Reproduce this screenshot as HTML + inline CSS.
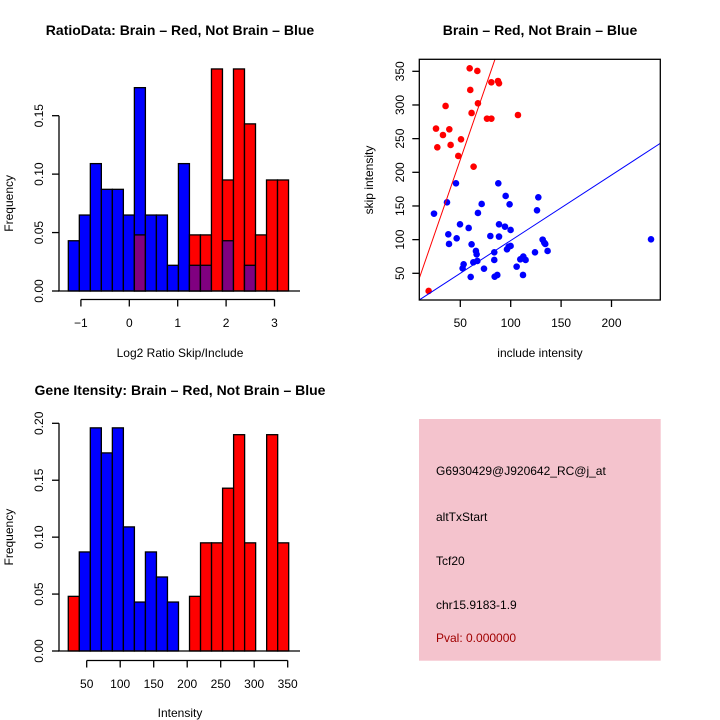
<!DOCTYPE html>
<html><head><meta charset="utf-8"><style>
html,body{margin:0;padding:0;background:#fff;}
svg{display:block;font-family:"Liberation Sans",sans-serif;}
</style></head><body>
<svg id="chart" width="720" height="720" viewBox="0 0 720 720" xmlns="http://www.w3.org/2000/svg">
<rect x="0" y="0" width="720" height="720" fill="#fff"/>
<g id="p1"></g>
<g id="p2"></g>
<g id="p3"></g>
<g id="p4">
<rect x="419" y="419" width="241.7" height="241.7" fill="#f4c3cd"/>
<text x="436" y="475" font-size="12" fill="#000">G6930429@J920642_RC@j_at</text>
<text x="436" y="521" font-size="12" fill="#000">altTxStart</text>
<text x="436" y="565" font-size="12" fill="#000">Tcf20</text>
<text x="436" y="609" font-size="12" fill="#000">chr15.9183-1.9</text>
<text x="436" y="642" font-size="12" fill="#a00000">Pval: 0.000000</text>
</g>
</svg>
<script>
// Panel 1 data: log2 ratio histogram
const ratioBinStart = -1.26;
const ratioBinWidth = 0.2275;
const ratioBlue = [0.043,0.065,0.109,0.087,0.087,0.065,0.174,0.065,0.065,0.022,0.109,0.022,0.022,0,0.043,0,0.022,0,0,0];
const ratioRed  = [0,0,0,0,0,0,0.048,0,0,0,0,0.048,0.048,0.19,0.095,0.19,0.143,0.048,0.095,0.095];
const ratioXTicks = [-1,0,1,2,3];
const ratioYTicks = [0,0.05,0.10,0.15];
const ratioYLabels = ["0.00","0.05","0.10","0.15"];

// Panel 2 data: scatter
const redInclude = [18.6,25.9,27.2,32.8,35.4,39.1,40.4,48.0,50.7,59.3,59.9,61.2,63.2,66.9,67.5,76.5,80.8,80.8,87.4,88.4,107.2];
const redSkip    = [23.8,264.9,237.1,255.4,298.5,263.9,240.6,224.3,249.0,354.5,322.3,288.1,208.4,350.5,302.5,279.7,333.7,279.7,335.6,332.2,285.1];
const blueInclude = [23.9,36.8,38.1,38.8,45.7,46.4,49.7,52.3,53.3,58.3,60.3,61.2,62.9,65.5,66.2,66.9,67.5,71.2,73.5,79.8,83.7,83.7,84.1,86.7,87.7,88.4,88.4,95.0,94.3,96.3,98.0,98.9,99.9,99.9,105.9,109.5,112.2,112.5,114.8,124.1,126.1,127.4,131.7,133.3,134.3,136.6,239.2];
const blueSkip    = [138.6,155.4,107.9,93.6,183.7,102.0,122.8,57.4,63.4,117.3,44.6,93.1,66.3,83.2,78.2,68.3,139.6,153.0,56.9,105.4,81.2,69.8,45.0,47.5,183.7,122.8,104.5,164.9,119.3,85.6,89.6,152.5,114.4,90.6,59.9,70.8,47.5,74.8,69.8,81.2,143.6,162.9,100.0,95.5,93.6,83.2,100.5];
const fitSlopes = [4.33, 0.973];
const fitIntercepts = [2.3, 1.35];
const scatterXTicks = [50,100,150,200];
const scatterYTicks = [50,100,150,200,250,300,350];

// Panel 3 data: intensity histogram
const intBinStart = 22.5;
const intBinWidth = 16.45;
const intBlue = [0,0.087,0.196,0.174,0.196,0.109,0.043,0.087,0.065,0.043,0,0,0,0,0,0,0,0,0,0];
const intRed  = [0.048,0,0,0,0,0,0,0,0,0,0,0.048,0.095,0.095,0.143,0.19,0.095,0,0.19,0.095];
const intXTicks = [50,100,150,200,250,300,350];
const intYTicks = [0,0.05,0.10,0.15,0.20];
const intYLabels = ["0.00","0.05","0.10","0.15","0.20"];

const NS="http://www.w3.org/2000/svg";
function mk(parent,tag,attrs,text){
  const e=document.createElementNS(NS,tag);
  for(const k in attrs) e.setAttribute(k,attrs[k]);
  if(text!==undefined) e.textContent=text;
  parent.appendChild(e);
  return e;
}

function histPanel(g, cfg){
  const {binStart,binWidth,blue,red,xs,ys,xTicks,yTicks,yLabels,title,titleY,xTitle,xTitleY,axisY,labelY,baseEnd}=cfg;
  const bottom = ys(0);
  let t=mk(g,'text',{x:180,y:titleY,'font-size':14,'font-weight':'bold','text-anchor':'middle'},title);
  
  
  for(let i=0;i<blue.length;i++){
    const x0=xs(binStart+i*binWidth), x1=xs(binStart+(i+1)*binWidth);
    const b=blue[i], r=red[i];
    const hi=Math.max(b,r), lo=Math.min(b,r);
    if(hi>0){
      const rc=mk(g,'rect',{x:x0,y:ys(hi),width:x1-x0,height:bottom-ys(hi),fill:(b>=r?'#0000ff':'#ff0000'),stroke:'#000','stroke-width':1.3});
      
      
    }
    if(lo>0){
      const pc=mk(g,'rect',{x:x0,y:ys(lo),width:x1-x0,height:bottom-ys(lo),fill:'#800080',stroke:'#000','stroke-width':1.3});
      
      
    }
  }
  let bl=mk(g,'line',{x1:58,y1:bottom,x2:baseEnd,y2:bottom,stroke:'#000','stroke-width':1.3});
  
  
  // x axis
  const xa=mk(g,'g',{});
  
  
  mk(xa,'line',{x1:xs(xTicks[0]),y1:axisY,x2:xs(xTicks[xTicks.length-1]),y2:axisY,stroke:'#000','stroke-width':1.3});
  xTicks.forEach(v=>{
    mk(xa,'line',{x1:xs(v),y1:axisY,x2:xs(v),y2:axisY+7,stroke:'#000','stroke-width':1.3});
    const tl=mk(xa,'text',{x:xs(v),y:labelY,'font-size':12,'text-anchor':'middle'},String(v).replace('-','\u2212'));
    
    
  });
  let xt=mk(g,'text',{x:180,y:xTitleY,'font-size':12,'text-anchor':'middle'},xTitle);
  
  
  // y axis
  const ya=mk(g,'g',{});
  
  
  mk(ya,'line',{x1:59,y1:ys(yTicks[0]),x2:59,y2:ys(yTicks[yTicks.length-1]),stroke:'#000','stroke-width':1.3});
  yTicks.forEach((v,i)=>{
    mk(ya,'line',{x1:52,y1:ys(v),x2:59,y2:ys(v),stroke:'#000','stroke-width':1.3});
    const tl=mk(ya,'text',{x:43,y:ys(v),'font-size':12,'text-anchor':'middle',transform:`rotate(-90 43 ${ys(v)})`},yLabels[i]);
    
    
  });
  const yc=(ys(yTicks[0])+ys(yTicks[yTicks.length-1]))/2;
  let yt=mk(g,'text',{x:13,y:yc,'font-size':12,'text-anchor':'middle',transform:`rotate(-90 13 ${yc})`},'Frequency');
  
  
}

// Panel 1
histPanel(document.getElementById('p1'),{
  binStart:ratioBinStart,binWidth:ratioBinWidth,blue:ratioBlue,red:ratioRed,
  xs:v=>129.3+v*48.4, ys:v=>291-v*1168.7,
  xTicks:ratioXTicks,yTicks:ratioYTicks,yLabels:ratioYLabels,
  title:'RatioData: Brain \u2013 Red, Not Brain \u2013 Blue',titleY:35,
  xTitle:'Log2 Ratio Skip/Include',xTitleY:357,axisY:299.5,labelY:327,baseEnd:300
});

// Panel 3
histPanel(document.getElementById('p3'),{
  binStart:intBinStart,binWidth:intBinWidth,blue:intBlue,red:intRed,
  xs:v=>86.7+(v-50)*0.67, ys:v=>651-v*1138.5,
  xTicks:intXTicks,yTicks:intYTicks,yLabels:intYLabels,
  title:'Gene Itensity: Brain \u2013 Red, Not Brain \u2013 Blue',titleY:395,
  xTitle:'Intensity',xTitleY:717,axisY:660.5,labelY:688,baseEnd:300
});

// Panel 2 scatter
(function(){
  const g=document.getElementById('p2');
  const L=419.3,R=660.3,T=59.3,B=300;
  const xs=v=>460.3+(v-50)*1.008;
  const ys=v=>273.3-(v-50)*0.6733;
  let t=mk(g,'text',{x:540,y:35,'font-size':14,'font-weight':'bold','text-anchor':'middle'},'Brain \u2013 Red, Not Brain \u2013 Blue');
  
  
  const defs=mk(g,'defs',{});
  const cp=mk(defs,'clipPath',{id:'clip2'});
  mk(cp,'rect',{x:L,y:T,width:R-L,height:B-T});
  const pts=mk(g,'g',{});
  
  
  redInclude.forEach((v,i)=>{
    const c=mk(pts,'circle',{cx:xs(v),cy:ys(redSkip[i]),r:3.3,fill:'#ff0000'});
    
    
  });
  blueInclude.forEach((v,i)=>{
    const c=mk(pts,'circle',{cx:xs(v),cy:ys(blueSkip[i]),r:3.3,fill:'#0000ff'});
    
    
  });
  const lineCols=['#ff0000','#0000ff'];
  const lineNames=['fit-line-brain','fit-line-not-brain'];
  fitSlopes.forEach((s,i)=>{
    const xa=0, xb=300;
    const ln=mk(g,'line',{x1:xs(xa),y1:ys(fitIntercepts[i]+s*xa),x2:xs(xb),y2:ys(fitIntercepts[i]+s*xb),stroke:lineCols[i],'stroke-width':1,'clip-path':'url(#clip2)'});
    
    
  });
  let box=mk(g,'rect',{x:L,y:T,width:R-L,height:B-T,fill:'none',stroke:'#000','stroke-width':1.3});
  
  
  const xa=mk(g,'g',{});
  
  
  scatterXTicks.forEach(v=>{
    mk(xa,'line',{x1:xs(v),y1:B,x2:xs(v),y2:B+7,stroke:'#000','stroke-width':1.3});
    const tl=mk(xa,'text',{x:xs(v),y:327,'font-size':12,'text-anchor':'middle'},String(v));
    
    
  });
  const ya=mk(g,'g',{});
  
  
  scatterYTicks.forEach(v=>{
    mk(ya,'line',{x1:L-7,y1:ys(v),x2:L,y2:ys(v),stroke:'#000','stroke-width':1.3});
    const tl=mk(ya,'text',{x:404,y:ys(v),'font-size':12,'text-anchor':'middle',transform:`rotate(-90 404 ${ys(v)})`},String(v));
    
    
  });
  let xt=mk(g,'text',{x:540,y:357,'font-size':12,'text-anchor':'middle'},'include intensity');
  
  
  let yt=mk(g,'text',{x:373,y:180,'font-size':12,'text-anchor':'middle',transform:'rotate(-90 373 180)'},'skip intensity');
  
  
})();
</script>
</body></html>
